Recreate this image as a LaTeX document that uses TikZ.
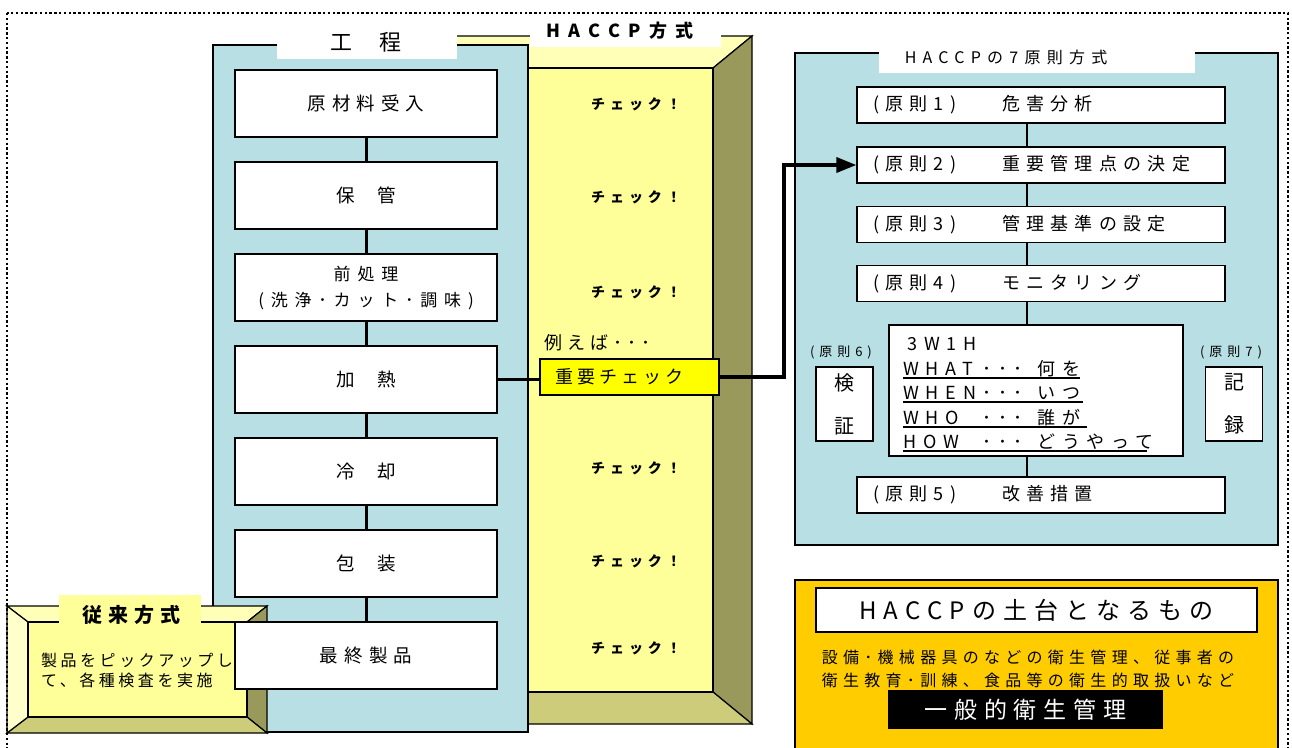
\documentclass[tikz,border=0pt]{standalone}
\usepackage{fontspec}
\setmainfont{Noto Sans CJK JP}
\usetikzlibrary{arrows.meta}
\definecolor{panelblue}{HTML}{B8DFE3}
\definecolor{yface}{HTML}{FFFF99}
\definecolor{ytop}{HTML}{FFFFB8}
\definecolor{yleft}{HTML}{FFFFCC}
\definecolor{yside}{HTML}{99995C}
\definecolor{ybottom}{HTML}{CCCC7A}
\definecolor{keyyellow}{HTML}{FFFF00}
\definecolor{gold}{HTML}{FFCC00}
\newcommand\fs[2]{\fontsize{#1}{#2}\selectfont}
\newcommand\ls[1]{\addfontfeatures{LetterSpace=#1}}
\newcommand\wl[4]{\rlap{\rule[-3.5pt]{#4}{1.8pt}}\makebox[79pt][l]{#1}\makebox[55pt][l]{#2}#3}
\begin{document}
\begin{tikzpicture}[x=1pt,y=-1pt,
  every node/.style={inner sep=0pt},
  edge/.style={draw=black,line width=1.2pt},
  procbox/.style={draw,line width=2.6pt,fill=white,minimum width=262pt,minimum height=67pt,font={\fs{18.5}{26}\ls{33}},align=center},
  chk/.style={font={\bfseries\fs{14}{16}\ls{35}}},
  prin/.style={draw,line width=1.3pt,fill=white,minimum width=368pt,minimum height=36pt,text width=336pt,align=left,font={\fs{18}{22}\ls{35}}},
  smallbox/.style={draw,line width=1.3pt,fill=white,minimum width=57pt,minimum height=74pt,font={\fs{20}{43}},align=center},
  flow/.style={line width=3pt},
  thinflow/.style={line width=1.2pt},
  wline/.style={anchor=base west,font={\fs{18}{22}\ls{38}}},
  lbl/.style={fill=white,inner sep=0pt}
]
\clip (0,0) rectangle (1292,747);
% ---------- HACCP big bevel box ----------
\filldraw[edge,fill=ytop] (400,36) -- (752,36) -- (713,68) -- (440,68) -- cycle;
\filldraw[edge,fill=yside] (752,36) -- (752,724) -- (713,692) -- (713,68) -- cycle;
\filldraw[edge,fill=ybottom] (440,692) -- (713,692) -- (752,724) -- (400,724) -- cycle;
\filldraw[edge,fill=yleft] (400,36) -- (440,68) -- (440,692) -- (400,724) -- cycle;
\filldraw[edge,fill=yface] (440,68) rectangle (713,692);
\fill[white] (530,18) rectangle (721,47);
\node[font={\bfseries\fs{18}{20}\ls{46}}] (haccphead) at (620,31) {HACCP方式};
% ---------- process panel ----------
\filldraw[edge,fill=panelblue] (213,45) rectangle (528,732);
\fill[white] (277,22) rectangle (457,59);
\node[font={\fs{22}{26}}] (kotei) at (366,42) {工\hspace{27pt}程};
\node[procbox] (p1) at (366,103.5) {原材料受入};
\node[procbox] (p2) at (366,195.5) {保\hspace{22pt}管};
\node[procbox,font={\fs{17}{26}\ls{40}}] (p3) at (366,287.5) {前処理\\(洗浄･カット･調味)};
\node[procbox] (p4) at (366,379.5) {加\hspace{22pt}熱};
\node[procbox] (p5) at (366,471.5) {冷\hspace{22pt}却};
\node[procbox] (p6) at (366,563.5) {包\hspace{22pt}装};
% ---------- conventional bevel ----------
\filldraw[edge,fill=ytop] (7,606) -- (267,606) -- (247,622) -- (28,622) -- cycle;
\filldraw[edge,fill=yside] (267,606) -- (267,733) -- (247,717) -- (247,622) -- cycle;
\filldraw[edge,fill=ybottom] (28,717) -- (247,717) -- (267,733) -- (7,733) -- cycle;
\filldraw[edge,fill=yleft] (7,606) -- (28,622) -- (28,717) -- (7,733) -- cycle;
\filldraw[edge,fill=yface] (28,622) rectangle (247,717);
\fill[yface] (59,595) rectangle (201,623);
\node[font={\bfseries\fs{20}{24}\ls{30}}] (juurai) at (131,615) {従来方式};
\node[anchor=west,align=left,font={\fs{16}{20}\ls{22}}] (juuraitext) at (41,670) {製品をピックアップし\\て、各種検査を実施};
\node[procbox] (p7) at (366,655.5) {最終製品};
\foreach \a/\b in {p1/p2,p2/p3,p3/p4,p4/p5,p5/p6,p6/p7}
  \draw[flow] (\a.south) -- (\b.north);
% ---------- checks ----------
\node[chk] (c1) at (636,104) {チェック！};
\node[chk] (c2) at (636,197) {チェック！};
\node[chk] (c3) at (636,292) {チェック！};
\node[chk] (c5) at (636,468) {チェック！};
\node[chk] (c6) at (636,561) {チェック！};
\node[chk] (c7) at (636,648) {チェック！};
\node[anchor=west,font={\fs{18}{22}\ls{28}}] (tatoeba) at (544,343) {例えば･･･};
\node[draw,line width=1.8pt,fill=keyyellow,minimum width=179pt,minimum height=36pt,font={\fs{18}{22}\ls{22}}] (key) at (629.5,377) {重要チェック\hspace*{20pt}};
\draw[flow] (p4.east) -- (p4.east -| key.west);
% ---------- 7 principles panel ----------
\filldraw[edge,fill=panelblue] (795,53) rectangle (1278,545);
\fill[white] (879,40) rectangle (1195,73);
\node[font={\fs{16}{20}\ls{39}}] (sevenhead) at (1006,57) {HACCPの7原則方式};
\coordinate (cx) at (1027,0);
\node[prin] (g1) at (1041,105) {\makebox[129pt][l]{(原則1)}危害分析};
\node[prin] (g2) at (1041,165) {\makebox[129pt][l]{(原則2)}重要管理点の決定};
\node[prin] (g3) at (1041,224.5) {\makebox[129pt][l]{(原則3)}管理基準の設定};
\node[prin] (g4) at (1041,283.5) {\makebox[129pt][l]{(原則4)}モニタリング};
\node[draw,line width=1.3pt,fill=white,minimum width=294pt,minimum height=131pt] (w) at (1036,390.5) {};
\node[prin] (g5) at (1041,495) {\makebox[129pt][l]{(原則5)}改善措置};
\foreach \a/\b in {g1/g2,g2/g3,g3/g4,g4/w,w/g5}
  \draw[thinflow] (\a.south -| cx) -- (\b.north -| cx);
\node[wline] (w0) at (907,350) {3W1H};
\node[wline] (w1) at (903,375) {\wl{WHAT}{･･･}{何を}{177pt}};
\node[wline] (w2) at (903,399.5) {\wl{WHEN}{･･･}{いつ}{180pt}};
\node[wline] (w3) at (903,424) {\wl{WHO}{･･･}{誰が}{184pt}};
\node[wline] (w4) at (903,448.5) {\wl{HOW}{･･･}{どうやって}{244pt}};
\node[font={\fs{13}{16}\ls{38}}] (l6) at (841,352) {(原則6)};
\node[font={\fs{13}{16}\ls{38}}] (l7) at (1231,352) {(原則7)};
\node[smallbox] (kensho) at (844.5,404) {検\\証};
\node[smallbox] (kiroku) at (1234,404) {記\\録};
\draw[flow,line width=3.5pt,-{Triangle[length=20pt,width=15pt]}] (key.east) -- ++(64,0) |- (g2.west);
% ---------- foundation ----------
\filldraw[edge,fill=gold] (795,580) rectangle (1278,770);
\node[draw,line width=1.5pt,fill=white,minimum width=441pt,minimum height=44pt,font={\fs{24}{28}\ls{30}}] (base) at (1036.5,610) {HACCPの土台となるもの};
\node[align=center,font={\fs{16}{23}\ls{33}}] (basetext) at (1028,668.5) {設備･機械器具のなどの衛生管理、従事者の\\衛生教育･訓練、食品等の衛生的取扱いなど};
\node[fill=black,text=white,minimum width=275pt,minimum height=39pt,font={\fs{23}{26}\ls{30}}] (general) at (1025.5,709.5) {一般的衛生管理};
% ---------- dotted frame ----------
\draw[line width=2.6pt,dash pattern=on 2.4pt off 2.4pt] (7,13) rectangle (1288,780);
\end{tikzpicture}
\end{document}
